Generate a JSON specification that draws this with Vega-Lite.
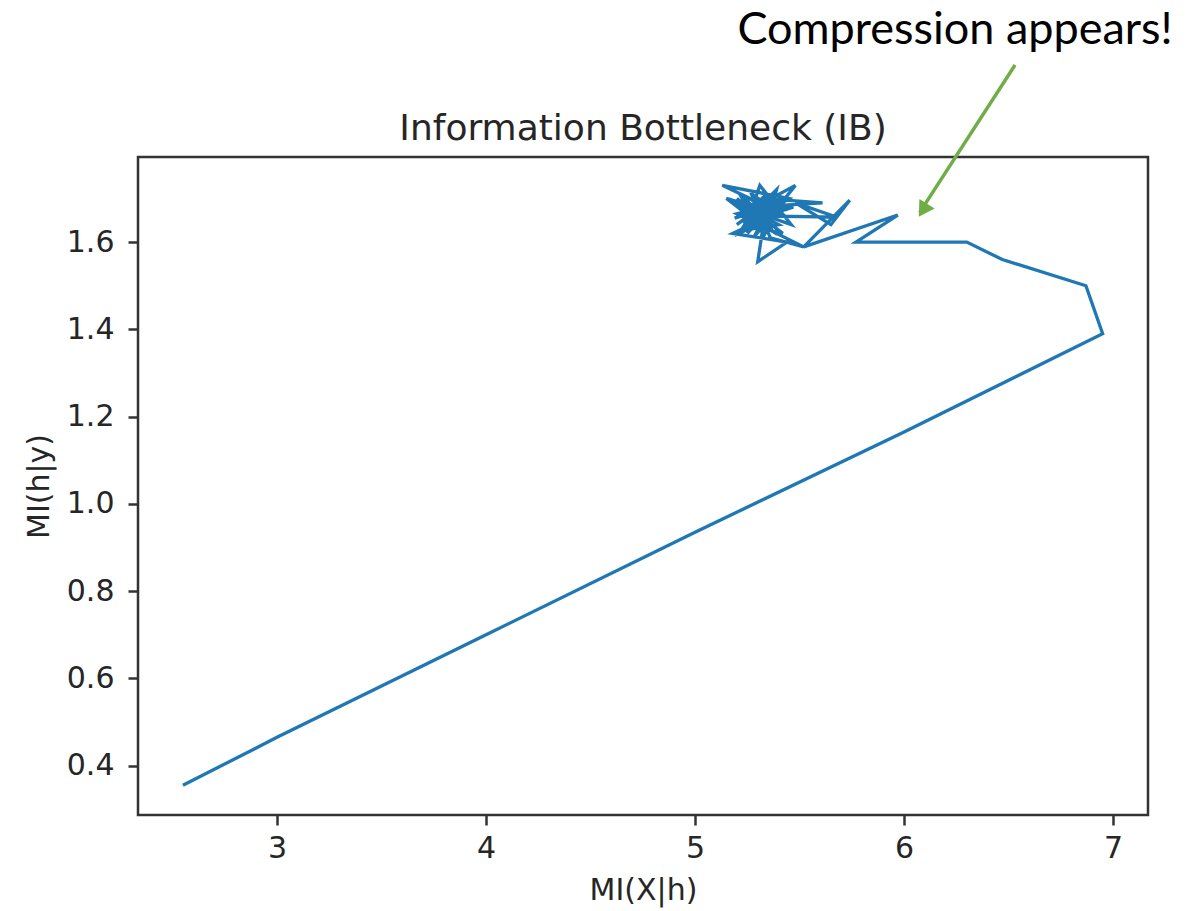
{
  "$schema": "https://vega.github.io/schema/vega-lite/v6.json",
  "width": 1010,
  "height": 658,
  "autosize": {"type": "none"},
  "padding": {"left": 138, "top": 157, "right": 56, "bottom": 96},
  "background": "white",
  "config": {
    "view": {"stroke": "#333333", "strokeWidth": 2.5},
    "font": "DejaVu Sans"
  },
  "layer": [
    {
      "data": {
        "values": [
          {"i": 0, "x": 2.55, "y": 0.355},
          {"i": 1, "x": 3.0, "y": 0.465},
          {"i": 2, "x": 4.0, "y": 0.70},
          {"i": 3, "x": 5.0, "y": 0.935},
          {"i": 4, "x": 6.0, "y": 1.165},
          {"i": 5, "x": 6.95, "y": 1.39},
          {"i": 6, "x": 6.87, "y": 1.50},
          {"i": 7, "x": 6.47, "y": 1.56},
          {"i": 8, "x": 6.30, "y": 1.60},
          {"i": 9, "x": 5.77, "y": 1.60},
          {"i": 10, "x": 5.97, "y": 1.662},
          {"i": 11, "x": 5.52, "y": 1.589},
          {"i": 12, "x": 5.74, "y": 1.696},
          {"i": 13, "x": 5.65, "y": 1.64},
          {"i": 14, "x": 5.48, "y": 1.69},
          {"i": 15, "x": 5.68, "y": 1.657},
          {"i": 16, "x": 5.30, "y": 1.66},
          {"i": 17, "x": 5.20, "y": 1.70},
          {"i": 18, "x": 5.42, "y": 1.62},
          {"i": 19, "x": 5.25, "y": 1.64},
          {"i": 20, "x": 5.45, "y": 1.70},
          {"i": 21, "x": 5.13, "y": 1.73},
          {"i": 22, "x": 5.35, "y": 1.68},
          {"i": 23, "x": 5.19, "y": 1.655},
          {"i": 24, "x": 5.48, "y": 1.73},
          {"i": 25, "x": 5.28, "y": 1.61},
          {"i": 26, "x": 5.38, "y": 1.70},
          {"i": 27, "x": 5.22, "y": 1.68},
          {"i": 28, "x": 5.46, "y": 1.64},
          {"i": 29, "x": 5.31, "y": 1.73},
          {"i": 30, "x": 5.26, "y": 1.66},
          {"i": 31, "x": 5.40, "y": 1.67},
          {"i": 32, "x": 5.18, "y": 1.62},
          {"i": 33, "x": 5.44, "y": 1.60},
          {"i": 34, "x": 5.30, "y": 1.555},
          {"i": 35, "x": 5.33, "y": 1.65},
          {"i": 36, "x": 5.24, "y": 1.70},
          {"i": 37, "x": 5.41, "y": 1.69},
          {"i": 38, "x": 5.20, "y": 1.665},
          {"i": 39, "x": 5.52, "y": 1.589},
          {"i": 40, "x": 5.36, "y": 1.61},
          {"i": 41, "x": 5.27, "y": 1.71},
          {"i": 42, "x": 5.43, "y": 1.66},
          {"i": 43, "x": 5.15, "y": 1.70},
          {"i": 44, "x": 5.34, "y": 1.63},
          {"i": 45, "x": 5.39, "y": 1.72},
          {"i": 46, "x": 5.23, "y": 1.645},
          {"i": 47, "x": 5.47, "y": 1.68},
          {"i": 48, "x": 5.29, "y": 1.69},
          {"i": 49, "x": 5.37, "y": 1.655},
          {"i": 50, "x": 5.21, "y": 1.62},
          {"i": 51, "x": 5.32, "y": 1.70},
          {"i": 52, "x": 5.61, "y": 1.69},
          {"i": 53, "x": 5.26, "y": 1.68},
          {"i": 54, "x": 5.35, "y": 1.64},
          {"i": 55, "x": 5.19, "y": 1.69},
          {"i": 56, "x": 5.28, "y": 1.645},
          {"i": 57, "x": 5.38, "y": 1.685},
          {"i": 58, "x": 5.22, "y": 1.705},
          {"i": 59, "x": 5.33, "y": 1.615},
          {"i": 60, "x": 5.42, "y": 1.705},
          {"i": 61, "x": 5.25, "y": 1.62},
          {"i": 62, "x": 5.36, "y": 1.695},
          {"i": 63, "x": 5.20, "y": 1.64},
          {"i": 64, "x": 5.31, "y": 1.68},
          {"i": 65, "x": 5.44, "y": 1.675},
          {"i": 66, "x": 5.24, "y": 1.655},
          {"i": 67, "x": 5.34, "y": 1.71},
          {"i": 68, "x": 5.27, "y": 1.63},
          {"i": 69, "x": 5.40, "y": 1.64},
          {"i": 70, "x": 5.21, "y": 1.685},
          {"i": 71, "x": 5.33, "y": 1.665},
          {"i": 72, "x": 5.29, "y": 1.70},
          {"i": 73, "x": 5.37, "y": 1.625},
          {"i": 74, "x": 5.23, "y": 1.67},
          {"i": 75, "x": 5.35, "y": 1.69},
          {"i": 76, "x": 5.26, "y": 1.70},
          {"i": 77, "x": 5.39, "y": 1.66},
          {"i": 78, "x": 5.30, "y": 1.63},
          {"i": 79, "x": 5.32, "y": 1.675}
        ]
      },
      "mark": {"type": "line", "color": "#1f77b4", "strokeWidth": 3.3, "interpolate": "linear", "strokeJoin": "miter"},
      "encoding": {
        "x": {
          "field": "x", "type": "quantitative",
          "scale": {"domain": [2.335, 7.167], "nice": false, "zero": false},
          "axis": {
            "title": "MI(X|h)", "values": [3, 4, 5, 6, 7], "format": "d",
            "grid": false, "domain": false,
            "tickSize": 10, "tickWidth": 2.5, "tickColor": "#333333",
            "labelFontSize": 30, "labelFont": "DejaVu Sans", "labelColor": "#262626", "labelPadding": 8,
            "titleFontSize": 30, "titleFont": "DejaVu Sans", "titleFontWeight": "normal", "titleColor": "#262626", "titlePadding": 12
          }
        },
        "y": {
          "field": "y", "type": "quantitative",
          "scale": {"domain": [0.287, 1.795], "nice": false, "zero": false},
          "axis": {
            "title": "MI(h|y)", "values": [0.4, 0.6, 0.8, 1.0, 1.2, 1.4, 1.6], "format": ".1f",
            "grid": false, "domain": false,
            "tickSize": 10, "tickWidth": 2.5, "tickColor": "#333333",
            "labelFontSize": 30, "labelFont": "DejaVu Sans", "labelColor": "#262626", "labelPadding": 14,
            "titleFontSize": 30, "titleFont": "DejaVu Sans", "titleFontWeight": "normal", "titleColor": "#262626", "titlePadding": 12
          }
        },
        "order": {"field": "i", "type": "quantitative"}
      }
    },
    {
      "data": {"values": [{"x": 6.531, "y": 2.006, "x2": 6.075, "y2": 1.668}]},
      "mark": {"type": "rule", "color": "#70AD47", "strokeWidth": 3.5},
      "encoding": {
        "x": {"field": "x", "type": "quantitative"},
        "y": {"field": "y", "type": "quantitative"},
        "x2": {"field": "x2"},
        "y2": {"field": "y2"}
      }
    },
    {
      "data": {"values": [{"x": 6.090, "y": 1.673}]},
      "mark": {"type": "point", "shape": "triangle-up", "filled": true, "color": "#70AD47", "opacity": 1, "size": 320, "angle": 212},
      "encoding": {
        "x": {"field": "x", "type": "quantitative"},
        "y": {"field": "y", "type": "quantitative"}
      }
    },
    {
      "data": {"values": [{"x": 4.751, "y": 1.834, "label": "Information Bottleneck (IB)"}]},
      "mark": {"type": "text", "font": "DejaVu Sans", "fontSize": 36, "color": "#262626", "align": "center", "baseline": "alphabetic"},
      "encoding": {
        "x": {"field": "x", "type": "quantitative"},
        "y": {"field": "y", "type": "quantitative"},
        "text": {"field": "label"}
      }
    },
    {
      "data": {"values": [{"x": 6.244, "y": 2.086, "label": "Compression appears!"}]},
      "mark": {"type": "text", "font": "Lato", "fontSize": 45, "color": "#000000", "align": "center", "baseline": "middle"},
      "encoding": {
        "x": {"field": "x", "type": "quantitative"},
        "y": {"field": "y", "type": "quantitative"},
        "text": {"field": "label"}
      }
    }
  ]
}
